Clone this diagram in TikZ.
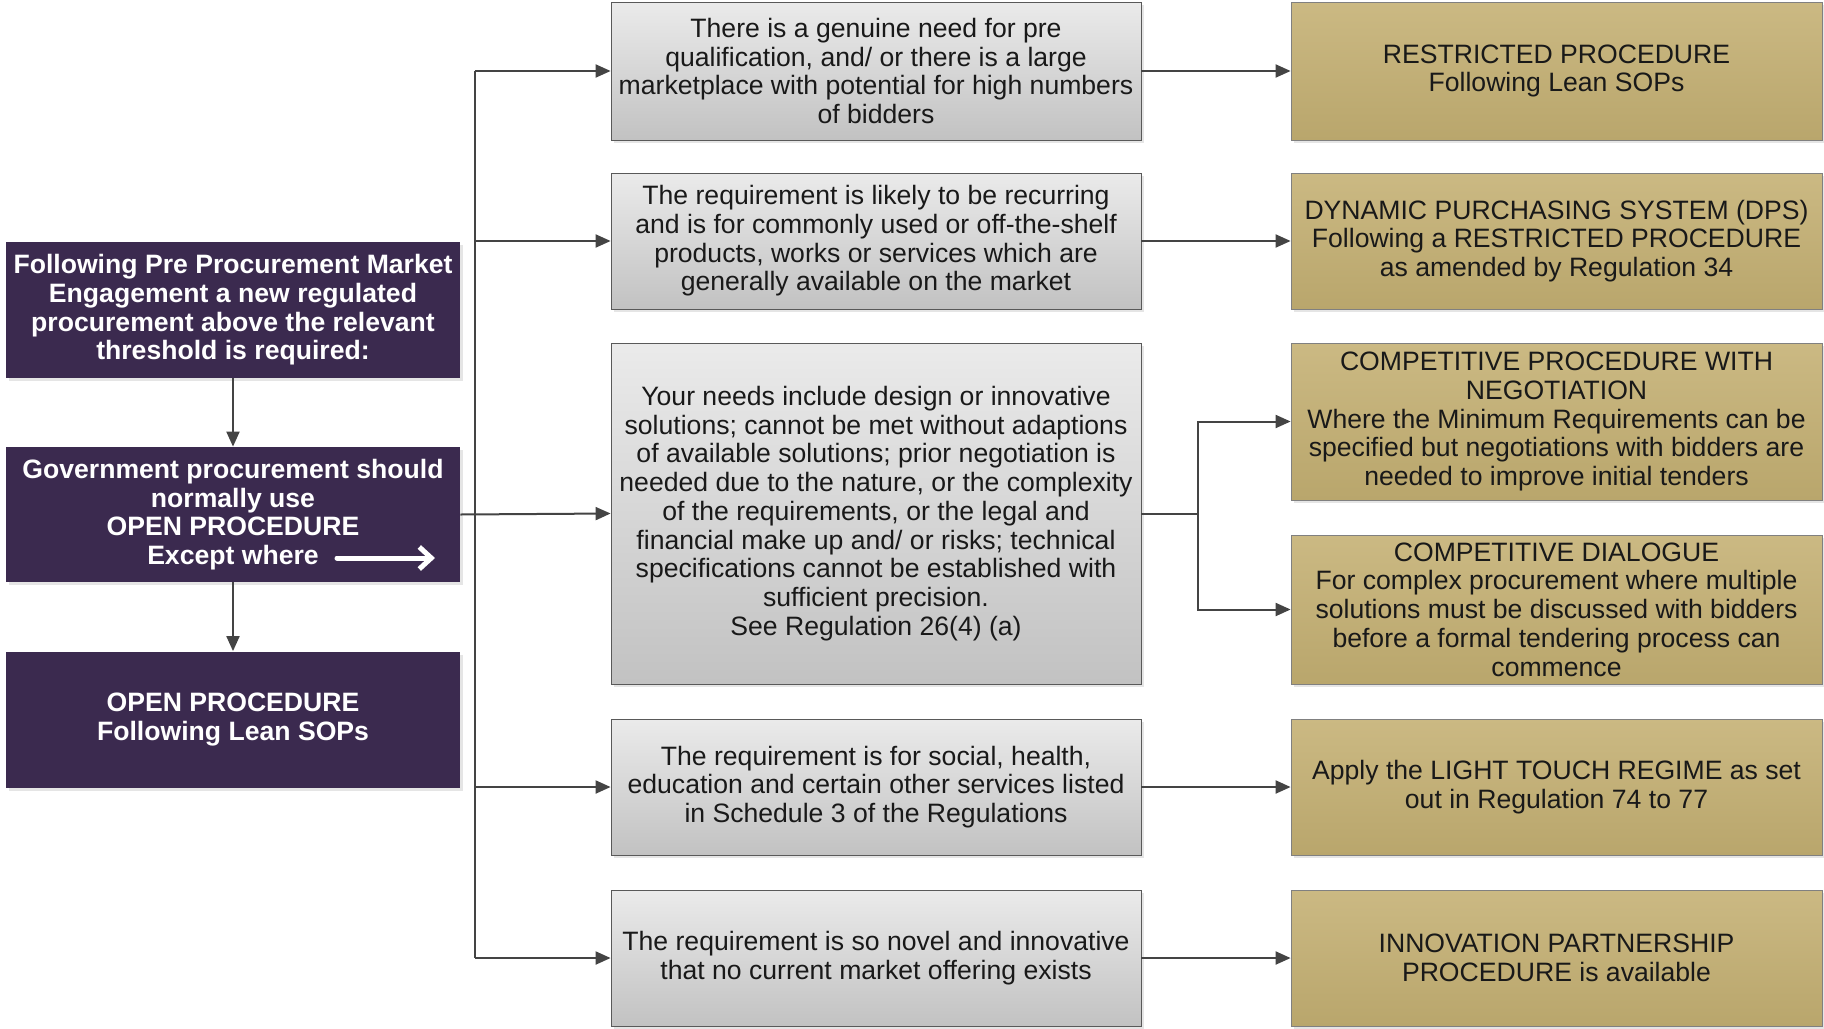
\documentclass[tikz,border=0pt]{standalone}
\usepackage{fontspec}
\setmainfont{Liberation Sans}
\usetikzlibrary{arrows.meta, shadows}

\definecolor{plum}{HTML}{3B2A4F}
\definecolor{goldtop}{HTML}{CBB983}
\definecolor{goldbot}{HTML}{B9A66C}
\definecolor{linegray}{HTML}{444444}

\begin{document}
\begin{tikzpicture}[x=0.5pt, y=-0.5pt,
  boxfont/.style={font=\fontsize{13.3}{14.35}\selectfont, align=center, inner sep=2pt},
  leftbox/.style={boxfont, font=\bfseries\fontsize{13.3}{14.35}\selectfont, fill=plum, text=white,
    minimum width=227pt, drop shadow={shadow xshift=1.5pt, shadow yshift=-1.5pt, fill=black!20}},
  condbox/.style={boxfont, draw=black!65, top color=black!8, bottom color=black!24, text=black!90,
    minimum width=265pt, drop shadow={shadow xshift=1.5pt, shadow yshift=-1.5pt, fill=black!20}},
  outbox/.style={boxfont, draw=black!50, top color=goldtop, bottom color=goldbot, text=black!90,
    minimum width=265.5pt, drop shadow={shadow xshift=1.5pt, shadow yshift=-1.5pt, fill=black!20}},
  conn/.style={draw=linegray, line width=1pt, -{Triangle[length=7.5pt,width=6.5pt]}},
  line/.style={draw=linegray, line width=1pt}]
\useasboundingbox (0,0) rectangle (1824,1028);

% Left column
\node[leftbox, minimum height=68pt] (start) at (233,310)
  {Following Pre Procurement Market\\Engagement a new regulated\\procurement above the relevant\\threshold is required:};
\node[leftbox, minimum height=67.5pt] (gov) at (233,514.5)
  {Government procurement should\\normally use\\OPEN PROCEDURE\\Except where};
\node[leftbox, minimum height=68pt] (open) at (233,719.5)
  {OPEN PROCEDURE\\Following Lean SOPs};
\draw[white, line width=2.5pt, line cap=round, -{Straight Barb[length=6pt,width=11pt]}] (337,558) -- (435,558);

% Conditions
\node[condbox, minimum height=69pt] (qual) at (876,71)
  {There is a genuine need for pre\\qualification, and/ or there is a large\\marketplace with potential for high numbers\\of bidders};
\node[condbox, minimum height=68pt] (recur) at (876,241)
  {The requirement is likely to be recurring\\and is for commonly used or off-the-shelf\\products, works or services which are\\generally available on the market};
\node[condbox, minimum height=170.5pt] (design) at (876,513.5)
  {Your needs include design or innovative\\solutions; cannot be met without adaptions\\of available solutions; prior negotiation is\\needed due to the nature, or the complexity\\of the requirements, or the legal and\\financial make up and/ or risks; technical\\specifications cannot be established with\\sufficient precision.\\See Regulation 26(4) (a)};
\node[condbox, minimum height=68pt] (social) at (876,787)
  {The requirement is for social, health,\\education and certain other services listed\\in Schedule 3 of the Regulations};
\node[condbox, minimum height=68pt] (novel) at (876,958)
  {The requirement is so novel and innovative\\that no current market offering exists};

% Procedures
\node[outbox, minimum height=69pt] (restr) at (1556.5,71)
  {RESTRICTED PROCEDURE\\Following Lean SOPs};
\node[outbox, minimum height=68pt] (dps) at (1556.5,241)
  {DYNAMIC PURCHASING SYSTEM (DPS)\\Following a RESTRICTED PROCEDURE\\as amended by Regulation 34};
\node[outbox, minimum height=78.5pt] (negot) at (1556.5,421.5)
  {COMPETITIVE PROCEDURE WITH\\NEGOTIATION\\Where the Minimum Requirements can be\\specified but negotiations with bidders are\\needed to improve initial tenders};
\node[outbox, minimum height=74.5pt] (dialog) at (1556.5,609.5)
  {COMPETITIVE DIALOGUE\\For complex procurement where multiple\\solutions must be discussed with bidders\\before a formal tendering process can\\commence};
\node[outbox, minimum height=68pt] (light) at (1556.5,787)
  {Apply the LIGHT TOUCH REGIME as set\\out in Regulation 74 to 77};
\node[outbox, minimum height=68pt] (innov) at (1556.5,958)
  {INNOVATION PARTNERSHIP\\PROCEDURE is available};

% Bus and split points
\coordinate (bustop) at (475,71);
\coordinate (busbot) at (475,958);
\coordinate (split) at (1198,513.5);

\draw[conn] (start) -- (gov);
\draw[conn] (gov) -- (open);
\draw[line] (bustop) -- (busbot);
\draw[conn] (bustop) -- (qual);
\draw[conn] (475,241) -- (recur);
\draw[conn] (gov.east) -- (design.west);
\draw[conn] (475,787) -- (social);
\draw[conn] (busbot) -- (novel);

\draw[conn] (qual) -- (restr);
\draw[conn] (recur) -- (dps);
\draw[line] (design.east) -- (split);
\draw[conn] (split) |- (negot.west);
\draw[conn] (split) |- (dialog.west);
\draw[conn] (social) -- (light);
\draw[conn] (novel) -- (innov);
\end{tikzpicture}
\end{document}
